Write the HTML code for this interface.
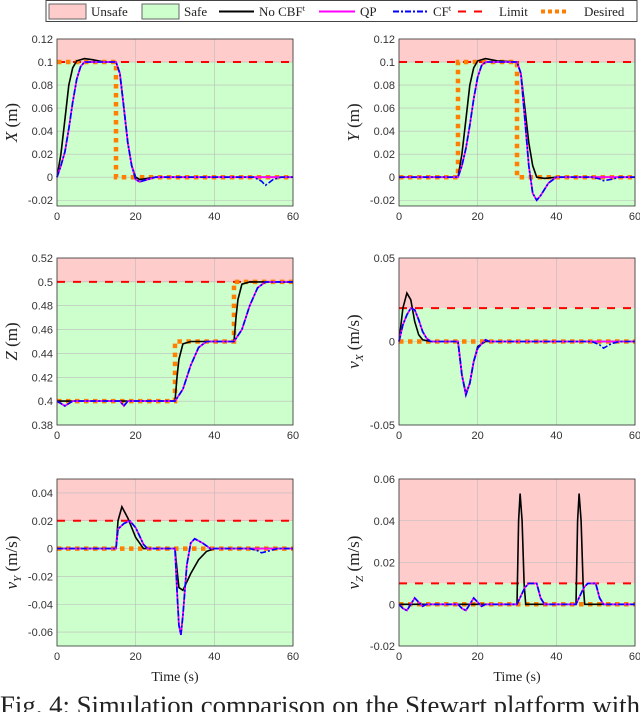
<!DOCTYPE html>
<html><head><meta charset="utf-8"><style>
body{margin:0;background:#fff;width:640px;height:712px;overflow:hidden;position:relative}
svg{position:absolute;left:0;top:0}
</style></head><body>
<svg id="fig" width="640" height="712" xmlns="http://www.w3.org/2000/svg">
<g>
<rect x="46" y="0.5" width="591" height="21" fill="#fff" stroke="#444" stroke-width="1"/>
<rect x="49" y="4" width="37" height="15" fill="#ffcccc" stroke="#666"/>
<text x="91" y="16" font-family="Liberation Serif,serif" font-size="13" fill="#222">Unsafe</text>
<rect x="142" y="4" width="37" height="15" fill="#ccffcc" stroke="#666"/>
<text x="184" y="16" font-family="Liberation Serif,serif" font-size="13" fill="#222">Safe</text>
<line x1="219" y1="11.5" x2="254" y2="11.5" stroke="#000" stroke-width="2"/>
<text x="259" y="16" font-family="Liberation Serif,serif" font-size="13" fill="#222">No CBF<tspan font-size="8" dy="-5">t</tspan></text>
<line x1="319" y1="11.5" x2="355" y2="11.5" stroke="#ff00ff" stroke-width="2"/>
<text x="360" y="16" font-family="Liberation Serif,serif" font-size="13" fill="#222">QP</text>
<line x1="393" y1="11.5" x2="429" y2="11.5" stroke="#0000ff" stroke-width="2" stroke-dasharray="6,2,2,2"/>
<text x="433" y="16" font-family="Liberation Serif,serif" font-size="13" fill="#222">CF<tspan font-size="8" dy="-5">t</tspan></text>
<line x1="458" y1="11.5" x2="486" y2="11.5" stroke="#ff0000" stroke-width="2" stroke-dasharray="8,8"/>
<text x="499" y="16" font-family="Liberation Serif,serif" font-size="13" fill="#222">Limit</text>
<line x1="541" y1="11.5" x2="566" y2="11.5" stroke="#ff8000" stroke-width="4" stroke-dasharray="4,3"/>
<text x="584" y="16" font-family="Liberation Serif,serif" font-size="13" fill="#222">Desired</text>
</g>
<text x="0" y="714" textLength="640" lengthAdjust="spacingAndGlyphs" font-family="Liberation Serif,serif" font-size="26" fill="#222">Fig. 4: Simulation comparison on the Stewart platform with</text>
</svg>
<script>
// ---- data ----
const xTicks=[0,20,40,60];
const xLabels=["0","20","40","60"];
const limits=[0.1,0.1,0.5,0.02,0.02,0.01];
const yRanges=[[-0.025,0.12],[-0.025,0.12],[0.38,0.52],[-0.05,0.05],[-0.07,0.05],[-0.02,0.06]];
const yTicks=[[-0.02,0,0.02,0.04,0.06,0.08,0.1,0.12],[-0.02,0,0.02,0.04,0.06,0.08,0.1,0.12],[0.38,0.4,0.42,0.44,0.46,0.48,0.5,0.52],[-0.05,0,0.05],[-0.06,-0.04,-0.02,0,0.02,0.04],[-0.02,0,0.02,0.04,0.06]];
const yLabels=[["-0.02","0","0.02","0.04","0.06","0.08","0.1","0.12"],["-0.02","0","0.02","0.04","0.06","0.08","0.1","0.12"],["0.38","0.4","0.42","0.44","0.46","0.48","0.5","0.52"],["-0.05","0","0.05"],["-0.06","-0.04","-0.02","0","0.02","0.04"],["-0.02","0","0.02","0.04","0.06"]];
const panelNames=["x-position","y-position","z-position","x-velocity","y-velocity","z-velocity"];
const desired=[
[[0,0.1],[15,0.1],[15,0],[60,0]],
[[0,0],[15,0],[15,0.1],[30,0.1],[30,0],[60,0]],
[[0,0.4],[30,0.4],[30,0.45],[45,0.45],[45,0.5],[60,0.5]],
[[0,0],[60,0]],[[0,0],[60,0]],[[0,0],[60,0]]];
const noCBF=[
[[0,0],[1,0.02],[2,0.05],[3,0.08],[4,0.095],[5,0.101],[7,0.103],[9,0.102],[12,0.1],[15,0.1],[16,0.09],[17,0.06],[18,0.03],[19,0.01],[20,0],[21,-0.002],[23,-0.001],[25,0],[60,0]],
[[0,0],[15,0],[16,0.02],[17,0.05],[18,0.08],[19,0.095],[20,0.101],[22,0.103],[25,0.101],[30,0.1],[31,0.09],[32,0.06],[33,0.03],[34,0.01],[35,0],[37,-0.001],[40,0],[60,0]],
[[0,0.4],[30,0.4],[30.5,0.42],[31,0.435],[32,0.448],[34,0.45],[45,0.45],[45.5,0.47],[46,0.485],[47,0.498],[49,0.5],[60,0.5]],
[[0,0],[1,0.02],[2,0.029],[3,0.025],[4,0.012],[5,0.004],[6,0.001],[8,0],[15,0],[16,-0.02],[17,-0.031],[18,-0.025],[19,-0.012],[20,-0.003],[22,0],[60,0]],
[[0,0],[15,0],[15.5,0.02],[16.5,0.03],[18,0.022],[20,0.008],[22,0],[30,0],[30.5,-0.015],[31,-0.028],[32,-0.03],[34,-0.018],[36,-0.008],[38,-0.002],[40,0],[60,0]],
[[0,0],[30,0],[30.4,0.04],[30.8,0.053],[31.3,0.04],[31.8,0.01],[32.2,0],[45,0],[45.4,0.04],[45.8,0.053],[46.3,0.04],[46.8,0.01],[47.2,0],[60,0]]];
const qp=[
[[0,0],[1,0.01],[2,0.022],[3,0.042],[4,0.065],[5,0.085],[6,0.096],[7,0.1],[9,0.1],[15,0.1],[16,0.09],[17,0.06],[18,0.03],[19,0.01],[20,-0.002],[21,-0.004],[23,-0.002],[25,0],[60,0]],
[[0,0],[15,0],[16,0.01],[17,0.025],[18,0.045],[19,0.068],[20,0.087],[21,0.097],[22,0.1],[30,0.1],[31,0.09],[32,0.05],[33,0.01],[34,-0.014],[35,-0.02],[36,-0.016],[38,-0.005],[40,0],[60,0]],
[[0,0.4],[1,0.398],[2,0.396],[3,0.398],[4,0.4],[16,0.4],[17,0.396],[18,0.4],[30,0.4],[32,0.41],[34,0.43],[36,0.445],[38,0.45],[45,0.45],[47,0.46],[49,0.48],[51,0.495],[53,0.5],[60,0.5]],
[[0,0],[1,0.01],[2,0.016],[3,0.02],[4,0.019],[5,0.013],[6,0.006],[7,0.002],[8,0],[15,0],[16,-0.02],[17,-0.032],[18,-0.025],[19,-0.012],[20,-0.004],[22,0.001],[23,0],[60,0]],
[[0,0],[15,0],[15.5,0.014],[17,0.018],[18.5,0.02],[20,0.015],[22,0.003],[23,0],[30,0],[30.5,-0.03],[31,-0.055],[31.5,-0.062],[32,-0.048],[33,-0.012],[34,0.004],[35,0.007],[37,0.004],[39,0],[60,0]],
[[0,0],[1,-0.002],[2,-0.003],[3,0],[4,0.003],[5,0.001],[6,-0.001],[7,0],[15,0],[16,-0.002],[17,-0.003],[18,0],[19,0.003],[20,0.001],[21,-0.001],[22,0],[30,0],[31,0.004],[32,0.008],[33,0.01],[35,0.01],[36,0.003],[37,0],[45,0],[46,0.004],[47,0.008],[48,0.01],[50,0.01],[51,0.003],[52,0],[60,0]]];
const cfDip=[[53,-0.007],[52,-0.003],[0,0.396],[52,-0.004],[52,-0.003],[0,0]];
// ---- drawing ----
const NS="http://www.w3.org/2000/svg";
const svg=document.getElementById('fig');
const lefts=[57,399],tops=[39,258,479],W=236,H=167;
function mk(tag,attrs,parent){const e=document.createElementNS(NS,tag);for(const k in attrs)e.setAttribute(k,attrs[k]);parent.appendChild(e);return e;}
const yTitles=[["X"," (m)"],["Y"," (m)"],["Z"," (m)"],["v","X"],["v","Y"],["v","Z"]];
for(let p=0;p<6;p++){
 const L=lefts[p%2],T=tops[Math.floor(p/2)];
 const [y0,y1]=yRanges[p];
 const sx=t=>L+t/60*W, sy=v=>T+H-(v-y0)/(y1-y0)*H;
 const g=mk('g',{},svg);
 
 
 const lim=sy(limits[p]);
 const r1=mk('rect',{x:L,y:T,width:W,height:lim-T,fill:'#ffcccc'},g);
 
 const r2=mk('rect',{x:L,y:lim,width:W,height:T+H-lim,fill:'#ccffcc'},g);
 
 xTicks.forEach((t,i)=>{mk('line',{x1:sx(t),x2:sx(t),y1:T,y2:T+H,stroke:'#bbb','stroke-width':0.6},g);
  const tx=mk('text',{x:sx(t),y:T+H+14,'text-anchor':'middle','font-family':'Liberation Sans,sans-serif','font-size':11,fill:'#333'},g);tx.textContent=xLabels[i];
  });
 yTicks[p].forEach((v,i)=>{mk('line',{x1:L,x2:L+W,y1:sy(v),y2:sy(v),stroke:'#bbb','stroke-width':0.6},g);
  const tx=mk('text',{x:L-4,y:sy(v)+4,'text-anchor':'end','font-family':'Liberation Sans,sans-serif','font-size':11,fill:'#333'},g);tx.textContent=yLabels[p][i];
  });
 const path=(pts,attrs,name)=>{const e=mk('path',Object.assign({d:pts.map((q,i)=>(i?'L':'M')+sx(q[0]).toFixed(1)+','+sy(q[1]).toFixed(1)).join(''),fill:'none'},attrs),g);
  };
 path([[0,limits[p]],[60,limits[p]]],{stroke:'#ff0000','stroke-width':2,'stroke-dasharray':'8,8'},'limit-line');
 path(desired[p],{stroke:'#ff8000','stroke-width':4.5,'stroke-dasharray':'4.5,4.5'},'desired-line');
 path(noCBF[p],{stroke:'#000','stroke-width':1.6},'no-cbf-line');
 path(qp[p],{stroke:'#ff00ff','stroke-width':1.8},'qp-line');
 let cf=qp[p].slice();
 const d=cfDip[p];
 if(d[0]>0){cf=cf.filter(q=>q[0]<d[0]-3||q[0]>d[0]+4);const base=qp[p][qp[p].length-1][1];
  cf.push([d[0]-3,base],[d[0]-1,(base+d[1])/2],[d[0],d[1]],[d[0]+2,base-0.002*(y1-y0)/0.15],[d[0]+4,base]);cf.sort((a,b)=>a[0]-b[0]);}
 path(cf,{stroke:'#0000ff','stroke-width':1.6,'stroke-dasharray':'6,2,2,2'},'cf-line');
 mk('rect',{x:L,y:T,width:W,height:H,fill:'none',stroke:'#333','stroke-width':0.8},g);
 const cx=L-40,cy=T+H/2;
 const yt=mk('text',{x:cx,y:cy,'text-anchor':'middle',transform:`rotate(-90 ${cx} ${cy})`,'font-family':'Liberation Serif,serif','font-size':17,fill:'#222'},g);
 
 if(p<3){yt.innerHTML=`<tspan font-style="italic">${yTitles[p][0]}</tspan>${yTitles[p][1]}`;}
 else{yt.innerHTML=`<tspan font-style="italic">v</tspan><tspan font-style="italic" font-size="11" dy="4">${yTitles[p][1]}</tspan><tspan dy="-4"> (m/s)</tspan>`;}
 if(p>=4){const xt=mk('text',{x:L+W/2,y:T+H+35,'text-anchor':'middle','font-family':'Liberation Serif,serif','font-size':14,fill:'#222'},g);xt.textContent='Time (s)';
  }
}
</script>
</body></html>
